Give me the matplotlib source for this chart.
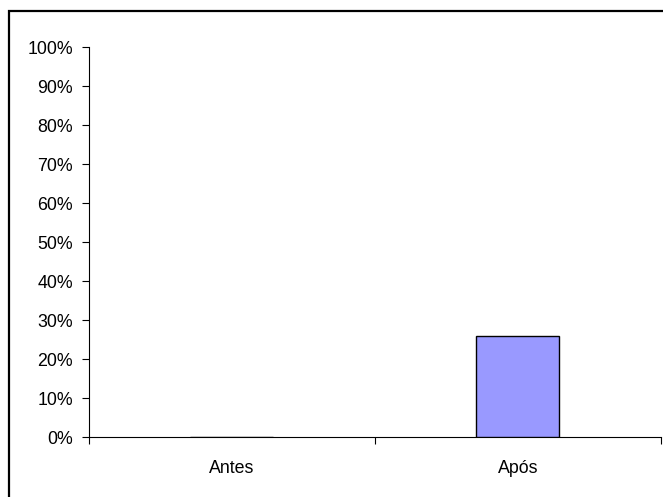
import matplotlib
matplotlib.use("Agg")
import matplotlib.pyplot as plt
from matplotlib.patches import Rectangle
from matplotlib.ticker import FixedLocator

categories = ["Antes", "Após"]
values = [0.0, 0.26]
yticks = [i / 10 for i in range(11)]
ytick_labels = [f"{i * 10}%" for i in range(11)]

plt.rcParams["font.family"] = ["Liberation Sans", "DejaVu Sans"]

W, H = 663, 497
fig = plt.figure(figsize=(W / 100, H / 100), dpi=100)
fig.patch.set_facecolor("white")

# outer chart-area border
fig.patches.append(Rectangle((8.5 / W, -0.1), 1.2, (H - 10.5) / H + 0.1,
                             transform=fig.transFigure, fill=False,
                             edgecolor="black", linewidth=1.6))

left, right, top, bottom = 88.5, 661, 47, 437.3
ax = fig.add_axes([left / W, 1 - bottom / H, (right - left) / W, (bottom - top) / H])

x = list(range(len(categories)))
ax.bar(x, values, width=0.29, color="#9999ff", edgecolor="black", linewidth=1.0, zorder=3)

ax.set_xlim(-0.5, len(categories) - 0.5)
ax.set_ylim(0, 1)
ax.set_yticks(yticks)
ax.set_yticklabels(ytick_labels, fontsize=12.8)
ax.set_xticks(x)
ax.set_xticklabels(categories, fontsize=12.8)
ax.tick_params(axis="x", length=0, pad=16)
ax.xaxis.set_minor_locator(FixedLocator([-0.5 + i for i in range(len(categories) + 1)]))
ax.tick_params(axis="x", which="minor", length=5, direction="out", width=0.8)
ax.tick_params(axis="y", length=5, direction="out", width=0.8, pad=6)

for side in ["top", "right"]:
    ax.spines[side].set_visible(False)
ax.spines["left"].set_linewidth(0.8)
ax.spines["bottom"].set_linewidth(0.8)

fig.savefig("out.png", dpi=100)
